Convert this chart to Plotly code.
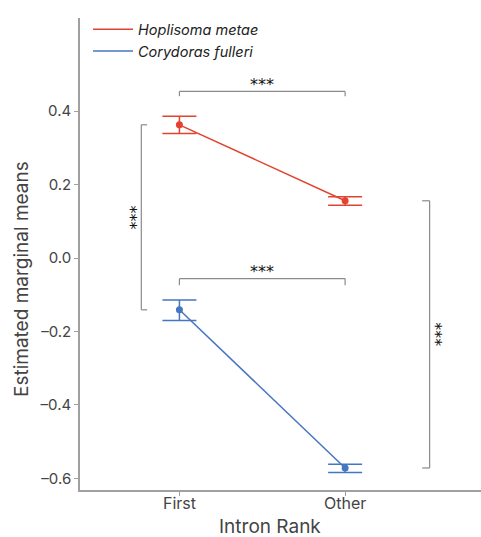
import plotly.graph_objects as go

# Intron rank categories and estimated marginal means with confidence limits
categories = ["First", "Other"]

hoplisoma_mean = [0.363, 0.156]
hoplisoma_lower = [0.339, 0.144]
hoplisoma_upper = [0.386, 0.167]

corydoras_mean = [-0.141, -0.572]
corydoras_lower = [-0.170, -0.584]
corydoras_upper = [-0.114, -0.562]

series_names = ["<i>Hoplisoma metae</i>", "<i>Corydoras fulleri</i>"]
series_colors = ["#E2432F", "#4676BF"]

y_ticks = [-0.6, -0.4, -0.2, 0.0, 0.2, 0.4]
y_tick_labels = ["\u20130.6", "\u20130.4", "\u20130.2", "0.0", "0.2", "0.4"]

x_title = "Intron Rank"
y_title = "Estimated marginal means"
significance = "***"

x_pos = [i + 1 for i in range(len(categories))]

fig = go.Figure()

for name, color, mean, lo, hi in [
    (series_names[0], series_colors[0], hoplisoma_mean, hoplisoma_lower, hoplisoma_upper),
    (series_names[1], series_colors[1], corydoras_mean, corydoras_lower, corydoras_upper),
]:
    fig.add_trace(go.Scatter(
        x=x_pos, y=mean, name=name, mode="lines+markers", showlegend=False,
        line=dict(color=color, width=1.5),
        marker=dict(color=color, size=7),
        error_y=dict(
            type="data", symmetric=False,
            array=[h - m for h, m in zip(hi, mean)],
            arrayminus=[m - l for m, l in zip(mean, lo)],
            color=color, thickness=1.5, width=17,
        ),
    ))

# legend keys drawn as plain lines
for name, color in zip(series_names, series_colors):
    fig.add_trace(go.Scatter(x=[None], y=[None], name=name, mode="lines",
                             line=dict(color=color, width=1.5)))

bracket_color = "#8a8a8a"
shapes = []

def hbracket(y, drop):
    # horizontal comparison bracket between the two intron ranks
    return [
        dict(type="line", x0=x_pos[0], x1=x_pos[1], y0=y, y1=y),
        dict(type="line", x0=x_pos[0], x1=x_pos[0], y0=y, y1=y - drop),
        dict(type="line", x0=x_pos[1], x1=x_pos[1], y0=y, y1=y - drop),
    ]

def vbracket(x, y0, y1, tick):
    # vertical comparison bracket between the two species
    return [
        dict(type="line", x0=x, x1=x, y0=y0, y1=y1),
        dict(type="line", x0=x, x1=x + tick, y0=y0, y1=y0),
        dict(type="line", x0=x, x1=x + tick, y0=y1, y1=y1),
    ]

top_y = hoplisoma_upper[0] + 0.068
mid_y = corydoras_upper[0] + 0.058
shapes += hbracket(top_y, 0.013)
shapes += hbracket(mid_y, 0.018)
shapes += vbracket(0.77, hoplisoma_mean[0], corydoras_mean[0], 0.035)
shapes += vbracket(2.51, hoplisoma_mean[1], corydoras_mean[1], -0.045)
for s in shapes:
    s.update(xref="x", yref="y", line=dict(color=bracket_color, width=1.2))

star_font = dict(family="DejaVu Sans", size=16, color="#111111")
title_font = dict(family="Inter", size=19, color="#444444")
tick_font = dict(family="Inter", size=16, color="#444444")
annotations = [
    dict(x=sum(x_pos) / 2, y=top_y, text=significance,
         showarrow=False, yanchor="bottom", yshift=-5, font=star_font),
    dict(x=sum(x_pos) / 2, y=mid_y, text=significance,
         showarrow=False, yanchor="bottom", yshift=-4, font=star_font),
    dict(x=0.77, y=(hoplisoma_mean[0] + corydoras_mean[0]) / 2, text=significance,
         showarrow=False, textangle=90, xanchor="right", xshift=1, font=star_font),
    dict(x=2.51, y=(hoplisoma_mean[1] + corydoras_mean[1]) / 2, text=significance,
         showarrow=False, textangle=90, xanchor="left", xshift=-6, font=star_font),
    # axis titles
    dict(xref="paper", yref="paper", x=0.475, y=0, yshift=-36, text=x_title,
         showarrow=False, xanchor="center", yanchor="middle", font=title_font),
    dict(xref="paper", yref="paper", x=0, xshift=-59, y=0.447, text=y_title,
         showarrow=False, textangle=-90, xanchor="center", yanchor="middle", font=title_font),
]
# category labels under the x axis ticks
for xp, label in zip(x_pos, categories):
    annotations.append(dict(x=xp, xref="x", yref="paper", y=0, yshift=-13, text=label,
                            showarrow=False, xanchor="center", yanchor="middle",
                            font=tick_font))

axis_line = dict(showline=True, linecolor="#a0a0a0", linewidth=1.6,
                 ticks="outside", ticklen=4, tickcolor="#a0a0a0", tickwidth=1.2,
                 showgrid=False, zeroline=False)

fig.update_layout(
    width=481, height=537,
    margin=dict(l=80, r=0, t=18, b=47),
    paper_bgcolor="white", plot_bgcolor="white",
    font=dict(family="Inter", color="#333333"),
    shapes=shapes, annotations=annotations,
    showlegend=True,
    legend=dict(x=0.02, y=1.01, xanchor="left", yanchor="top",
                bgcolor="rgba(0,0,0,0)", font=dict(size=14.5, color="#222222"),
                tracegroupgap=3, itemwidth=40),
    xaxis=dict(axis_line, range=[0.4, 2.82], tickvals=x_pos, showticklabels=False),
    yaxis=dict(axis_line, range=[-0.632, 0.654], tickvals=y_ticks, ticktext=y_tick_labels,
               tickfont=dict(size=15, color="#444444")),
)

fig.write_html("out.html")
